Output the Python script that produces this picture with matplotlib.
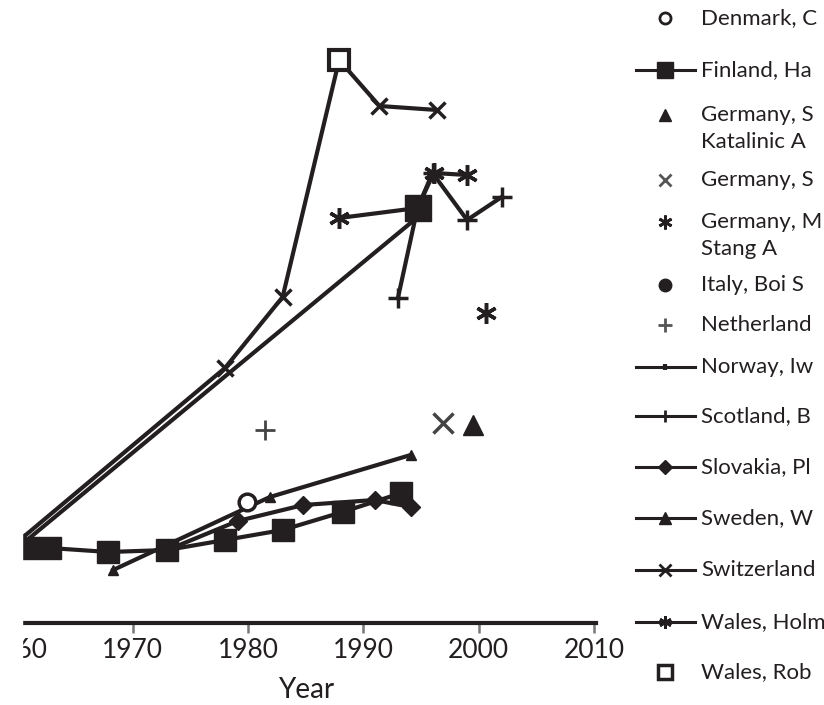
import matplotlib.pyplot as plt
from matplotlib.patches import Rectangle

plt.rcParams['font.family'] = ['Lato', 'DejaVu Sans']
INK = '#231f20'

# values (year, rate)
denmark_x = [1979.9]
denmark_y = [2.43]
finland_x = [1960.9, 1962.8, 1967.9, 1973.0, 1978.0, 1983.0, 1988.2, 1993.3]
finland_y = [1.50, 1.50, 1.42, 1.46, 1.66, 1.86, 2.22, 2.60]
finland_late_x = [1994.7]
finland_late_y = [8.3]
germany_kat_x = [1999.5]
germany_kat_y = [3.96]
germany_s_x = [1996.9]
germany_s_y = [4.0]
germany_stang_x = [2000.6]
germany_stang_y = [6.2]
italy_x = [1960.6]
italy_y = [1.55]
netherlands_x = [1981.5]
netherlands_y = [3.86]
norway_x = [1960.0, 1994.2]
norway_y = [1.50, 8.02]
scotland_x = [1993.0, 1994.7, 1996.0, 1999.0, 2002.0]
scotland_y = [6.50, 8.30, 9.00, 8.06, 8.52]
slovakia_x = [1973.0, 1979.1, 1984.8, 1991.0, 1994.1]
slovakia_y = [1.46, 2.04, 2.36, 2.46, 2.32]
sweden_x = [1968.3, 1981.9, 1994.1]
sweden_y = [1.06, 2.52, 3.36]
switzerland_x = [1960.0, 1978.0, 1983.0, 1987.9, 1991.4, 1996.4]
switzerland_y = [1.62, 5.10, 6.52, 11.26, 10.34, 10.26]
wales_holm_x = [1987.9, 1994.7, 1996.1, 1999.0]
wales_holm_y = [8.10, 8.30, 9.00, 8.96]
wales_rob_x = [1987.9]
wales_rob_y = [11.26]

ast = (6, 2, 0)

fig = plt.figure(figsize=(8.24, 7.05), dpi=100)
ax = fig.add_axes([17.4 / 824, 82 / 705, 578.3 / 824, 623 / 705])

lw = 3.0
ax.plot(norway_x, norway_y, '-', color=INK, lw=lw)
ax.plot(switzerland_x, switzerland_y, '-x', color=INK, lw=lw, ms=12, mew=2.5)
ax.plot(sweden_x, sweden_y, '-^', color=INK, lw=lw, ms=7)
ax.plot(slovakia_x, slovakia_y, '-D', color=INK, lw=lw, ms=9)
ax.plot(finland_x, finland_y, '-s', color=INK, lw=lw, ms=16)
ax.plot(finland_late_x, finland_late_y, 's', color=INK, ms=19)
ax.plot(scotland_x, scotland_y, '-+', color=INK, lw=lw, ms=14, mew=2.5)
ax.plot(wales_holm_x, wales_holm_y, '-', marker=ast, color=INK, lw=lw, ms=15, mew=2.5)
ax.plot(wales_rob_x, wales_rob_y, 's', mfc='white', mec=INK, ms=15, mew=3)
ax.plot(denmark_x, denmark_y, 'o', mfc='white', mec=INK, ms=12, mew=2.5)
ax.plot(germany_kat_x, germany_kat_y, '^', color=INK, ms=14)
ax.plot(germany_s_x, germany_s_y, 'x', color='#444444', ms=14, mew=2.5)
ax.plot(germany_stang_x, germany_stang_y, ls='none', marker=ast, color=INK, ms=15, mew=2.5)
ax.plot(italy_x, italy_y, 'o', color=INK, ms=11)
ax.plot(netherlands_x, netherlands_y, '+', color='#444444', ms=14, mew=2)

ax.set_xlim(1960, 2010.15)
ax.set_ylim(0, 12.46)
for s in ['top', 'right', 'left']:
    ax.spines[s].set_visible(False)
ax.spines['bottom'].set_linewidth(3)
ax.spines['bottom'].set_color(INK)
ax.set_xticks([1960, 1970, 1980, 1990, 2000, 2010])
ax.set_yticks([])
ax.tick_params(axis='x', direction='out', length=7, width=1.8, color='#777777',
               labelsize=19, labelcolor=INK, pad=4)
ax.set_xlabel('Year', fontsize=20, color=INK, labelpad=10)

# left edge of the original was cropped
fig.add_artist(Rectangle((0, 0), 22 / 824, 1, transform=fig.transFigure,
                         color='white', zorder=10))

# legend, drawn by hand in pixel coordinates
lg = fig.add_axes([0, 0, 1, 1])
lg.set_xlim(0, 824)
lg.set_ylim(705, 0)
lg.axis('off')
leg_y = [18, 70, 115, 180, 222, 285, 325, 367, 416, 467, 518, 570, 622, 672]
leg_labels = ['Denmark, C', 'Finland, Ha', 'Germany, S\nKatalinic A', 'Germany, S',
              'Germany, M\nStang A', 'Italy, Boi S', 'Netherland', 'Norway, Iw',
              'Scotland, B', 'Slovakia, Pl', 'Sweden, W', 'Switzerland',
              'Wales, Holm', 'Wales, Rob']
leg_style = [
    dict(ls='none', marker='o', mfc='white', mec=INK, ms=8, mew=2),
    dict(ls='-', marker='s', color=INK, ms=11),
    dict(ls='none', marker='^', color=INK, ms=9),
    dict(ls='none', marker='x', color='#555555', ms=9, mew=2),
    dict(ls='none', marker=ast, color=INK, ms=10, mew=2),
    dict(ls='none', marker='o', color=INK, ms=9),
    dict(ls='none', marker='+', color='#555555', ms=10, mew=2),
    dict(ls='-', marker='|', color=INK, ms=5, mew=3),
    dict(ls='-', marker='+', color=INK, ms=9, mew=2),
    dict(ls='-', marker='D', color=INK, ms=7),
    dict(ls='-', marker='^', color=INK, ms=8),
    dict(ls='-', marker='x', color=INK, ms=8, mew=2),
    dict(ls='-', marker=ast, color=INK, ms=9, mew=2),
    dict(ls='none', marker='s', mfc='white', mec=INK, ms=10, mew=2.5),
]
for y, label, st in zip(leg_y, leg_labels, leg_style):
    lg.plot([636, 665, 695], [y, y, y], lw=2.2, markevery=[1], **st)
    for i, line in enumerate(label.split('\n')):
        lg.text(701, y + i * 27, line, fontsize=16, color=INK, va='center', ha='left')

fig.savefig('out.png', dpi=100)
